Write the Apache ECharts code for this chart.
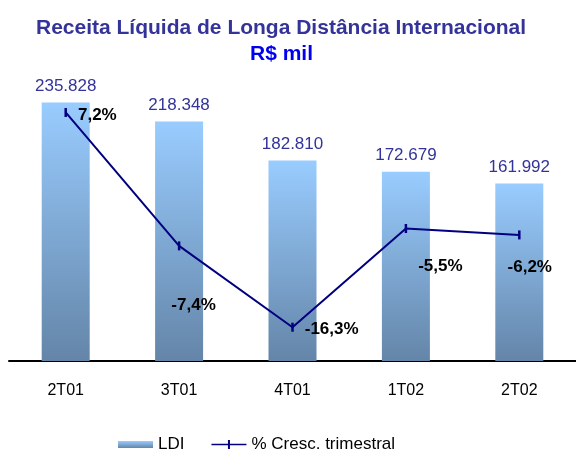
<!DOCTYPE html>
<html>
<head>
<meta charset="utf-8">
<script src="https://cdn.jsdelivr.net/npm/echarts@6/dist/echarts.min.js"></script>
<style>
  html, body { margin: 0; padding: 0; background: #fff; }
  #chart { width: 576px; height: 451px; }
</style>
</head>
<body>
<div id="chart"></div>
<script>
// dados
const categorias = ['2T01', '3T01', '4T01', '1T02', '2T02']
const ldi = [235828, 218348, 182810, 172679, 161992]
const crescTrim = [7.2, -7.4, -16.3, -5.5, -6.2]
// deslocamento dos rótulos de % (px)
const offsetRotulos = [[11, 3], [-9, 59], [11, 2], [11, 38], [-13, 32]]

const fonte = '"Liberation Sans", Arial, sans-serif'

function milhar(v) {
  return String(v).replace(/\B(?=(\d{3})+(?!\d))/g, '.')
}

const gradienteBarra = {
  type: 'linear',
  x: 0, y: 0, x2: 0, y2: 1,
  colorStops: [
    { offset: 0, color: '#99ccff' },
    { offset: 1, color: '#6485a8' },
  ],
}

let myChart = echarts.init(document.getElementById('chart'))

let option = {
  animation: false,
  textStyle: { fontFamily: fonte },
  title: [
    {
      text: 'Receita Líquida de Longa Distância Internacional',
      left: 31,
      top: 13,
      textStyle: { fontSize: 21, fontWeight: 'bold', color: '#333399', fontFamily: fonte },
    },
    {
      text: 'R$ mil',
      left: 245,
      top: 39,
      textStyle: { fontSize: 21, fontWeight: 'bold', color: '#0000ee', fontFamily: fonte },
    },
  ],
  legend: {
    left: 113,
    top: 431,
    itemWidth: 35,
    itemHeight: 9,
    itemGap: 27,
    textStyle: { fontSize: 17, color: '#000', fontFamily: fonte },
    data: [
      { name: 'LDI', icon: 'path://M0,1 L35,1 L35,8 L0,8 Z' },
      // linha com marcador vertical
      { name: '% Cresc. trimestral', icon: 'path://M0,3.8 L35,3.8 L35,5.2 L0,5.2 Z M16.5,0 L18.5,0 L18.5,9 L16.5,9 Z' },
    ],
  },
  grid: {
    left: 9,
    top: 54,
    width: 570,
    height: 307,
  },
  xAxis: [
    {
      type: 'category',
      data: categorias,
      axisLine: { lineStyle: { color: '#000', width: 2 } },
      axisTick: { length: 5, lineStyle: { color: '#000', width: 2 } },
      axisLabel: { fontSize: 16, color: '#000', margin: 22, fontFamily: fonte },
    },
    {
      // ticks para cima (cruzando o eixo)
      type: 'category',
      data: categorias,
      position: 'bottom',
      axisLine: { show: false },
      axisTick: { inside: true, length: 7, lineStyle: { color: '#000', width: 2 } },
      axisLabel: { show: false },
    },
  ],
  yAxis: [
    { type: 'value', min: 0, max: 280000, show: false, splitLine: { show: false } },
    { type: 'value', min: -20, max: 13.6, show: false, splitLine: { show: false } },
  ],
  series: [
    {
      name: 'LDI',
      type: 'bar',
      barWidth: 48,
      data: ldi,
      itemStyle: { color: gradienteBarra },
      label: {
        show: true,
        position: 'top',
        distance: 8,
        fontSize: 17,
        color: '#333399',
        fontFamily: fonte,
        formatter: (p) => milhar(p.value),
      },
    },
    {
      name: '% Cresc. trimestral',
      type: 'line',
      yAxisIndex: 1,
      z: 5,
      symbol: 'rect',
      symbolSize: [2.5, 9],
      lineStyle: { color: '#000080', width: 2 },
      itemStyle: { color: '#000080' },
      data: crescTrim.map((v, i) => ({
        value: v,
        label: { offset: offsetRotulos[i] },
      })),
      label: {
        show: true,
        position: 'right',
        distance: 0,
        fontSize: 17,
        fontWeight: 'bold',
        color: '#000',
        fontFamily: fonte,
        formatter: (p) => String(p.value).replace('.', ',') + '%',
      },
    },
  ],
}
myChart.setOption(option)
</script>
</body>
</html>
